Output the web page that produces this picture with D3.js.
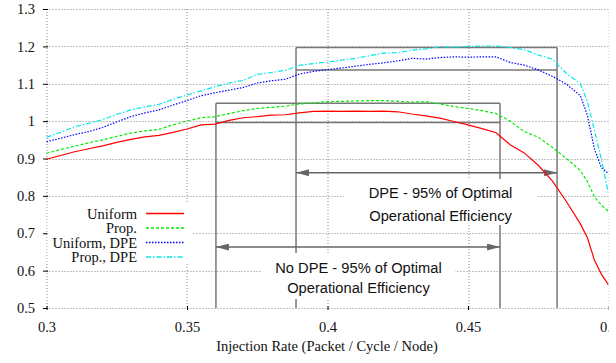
<!DOCTYPE html>
<html>
<head>
<meta charset="utf-8">
<script src="https://cdn.jsdelivr.net/npm/d3@7"></script>
<style>
  body { margin: 0; background: #fff; }
  svg text { font-family: "Liberation Serif", "Times New Roman", serif; }
  .note { font-family: "Liberation Sans", Arial, Helvetica, sans-serif; }
</style>
</head>
<body>
<div id="chart"></div>
<script>
// injection rate samples (packet / cycle / node)
const injectionRate = [0.300, 0.305, 0.310, 0.315, 0.320, 0.325, 0.330, 0.335, 0.340, 0.345,
  0.350, 0.355, 0.360, 0.365, 0.370, 0.375, 0.380, 0.385, 0.390, 0.395,
  0.400, 0.405, 0.410, 0.415, 0.420, 0.425, 0.430, 0.435, 0.440, 0.445,
  0.450, 0.455, 0.460, 0.465, 0.470, 0.475, 0.480, 0.485, 0.490, 0.4925,
  0.495, 0.4975, 0.500];

const uniform = [0.898, 0.908, 0.918, 0.926, 0.934, 0.943, 0.951, 0.958, 0.962, 0.970,
  0.979, 0.990, 0.992, 1.002, 1.009, 1.012, 1.016, 1.017, 1.022, 1.026,
  1.027, 1.026, 1.027, 1.026, 1.027, 1.025, 1.019, 1.014, 1.008, 0.999,
  0.990, 0.980, 0.969, 0.937, 0.915, 0.882, 0.840, 0.785, 0.725, 0.688,
  0.628, 0.590, 0.562];

const prop = [0.914, 0.924, 0.933, 0.942, 0.950, 0.959, 0.968, 0.974, 0.978, 0.990,
  1.000, 1.009, 1.012, 1.020, 1.028, 1.034, 1.037, 1.040, 1.046, 1.049,
  1.052, 1.053, 1.054, 1.055, 1.055, 1.053, 1.051, 1.052, 1.046, 1.039,
  1.034, 1.028, 1.020, 1.000, 0.972, 0.957, 0.930, 0.900, 0.868, 0.838,
  0.797, 0.775, 0.758];

const uniformDpe = [0.945, 0.954, 0.964, 0.972, 0.983, 0.998, 1.012, 1.022, 1.030, 1.043,
  1.055, 1.068, 1.076, 1.083, 1.090, 1.102, 1.108, 1.112, 1.126, 1.133,
  1.138, 1.142, 1.147, 1.152, 1.156, 1.161, 1.168, 1.166, 1.170, 1.172,
  1.171, 1.172, 1.172, 1.157, 1.150, 1.137, 1.120, 1.099, 1.068, 1.015,
  0.925, 0.875, 0.860];

const propDpe = [0.957, 0.970, 0.985, 0.994, 1.004, 1.018, 1.030, 1.038, 1.045, 1.058,
  1.070, 1.081, 1.092, 1.102, 1.109, 1.125, 1.130, 1.136, 1.149, 1.154,
  1.158, 1.163, 1.168, 1.175, 1.182, 1.183, 1.190, 1.193, 1.199, 1.198,
  1.200, 1.201, 1.201, 1.197, 1.191, 1.177, 1.166, 1.128, 1.100, 1.052,
  0.975, 0.897, 0.805];

const seriesNames = ["Uniform", "Prop.", "Uniform, DPE", "Prop., DPE"];
const seriesColors = ["#ff0000", "#00ee00", "#0000ff", "#00e8e8"];
const seriesDashes = ["none", "3,2", "1.5,1.5", "5,2,1.5,2"];

const xTicks = [0.3, 0.35, 0.4, 0.45, 0.5];
const yTicks = [0.5, 0.6, 0.7, 0.8, 0.9, 1, 1.1, 1.2, 1.3];

// 95%-of-optimal bands and spans
const dpeSpan = [0.3888, 0.4817];
const dpeBand = [1.137, 1.197];
const noDpeSpan = [0.3603, 0.4614];
const noDpeBand = [0.996, 1.048];
const dpeArrowLevel = 0.862;
const noDpeArrowLevel = 0.663;
const dpeNote = ["DPE - 95% of Optimal", "Operational Efficiency"];
const noDpeNote = ["No DPE - 95% of Optimal", "Operational Efficiency"];

const margin = { top: 9, left: 46.5 };
const width = 562, height = 299;
const fontSize = 14.5;

const svg = d3.select("#chart").append("svg")
  .attr("width", 616)
  .attr("height", 363);

const g = svg.append("g")
  .attr("transform", `translate(${margin.left},${margin.top})`);

const x = d3.scaleLinear().domain([0.3, 0.5]).range([0, width]);
const y = d3.scaleLinear().domain([0.5, 1.3]).range([height, 0]);

// grid
g.append("g")
  .selectAll("line")
  .data(yTicks)
  .join("line")
  .attr("x1", 0).attr("x2", width)
  .attr("y1", d => Math.round(y(d)) + 0.5).attr("y2", d => Math.round(y(d)) + 0.5)
  .attr("stroke", "#888").attr("stroke-width", 1).attr("stroke-dasharray", "1,2");

g.append("g")
  .selectAll("line")
  .data(xTicks)
  .join("line")
  .attr("x1", d => Math.round(x(d)) + 0.5).attr("x2", d => Math.round(x(d)) + 0.5)
  .attr("y1", 0).attr("y2", height)
  .attr("stroke", "#888").attr("stroke-width", 1).attr("stroke-dasharray", "1,2");

// axes
const yAxis = g.append("g")
  .call(d3.axisLeft(y).tickValues(yTicks).tickSize(5).tickPadding(6.5).tickFormat(d => String(d)));
yAxis.select(".domain").remove();
yAxis.selectAll("line").attr("transform", "translate(1.5,0)").attr("stroke", "#000");
yAxis.selectAll("text").attr("font-size", fontSize).attr("fill", "#111")
  .attr("font-family", "Liberation Serif, serif");

const xAxis = g.append("g")
  .attr("transform", `translate(0,${height})`)
  .call(d3.axisBottom(x).tickValues(xTicks).tickSize(4).tickPadding(10).tickFormat(d => String(d)));
xAxis.select(".domain").remove();
xAxis.selectAll("line").attr("transform", "translate(0,-2)").attr("stroke", "#000");
xAxis.selectAll("text").attr("font-size", fontSize).attr("fill", "#111")
  .attr("font-family", "Liberation Serif, serif");

g.append("text")
  .attr("x", x(0.4) - 0.5)
  .attr("y", height + 43)
  .attr("text-anchor", "middle")
  .attr("font-size", fontSize)
  .attr("fill", "#111")
  .text("Injection Rate (Packet / Cycle / Node)");

// band boxes with vertical lines down to the axis
function drawBand(span, band) {
  const bx = g.append("g").attr("stroke", "#777").attr("stroke-width", 1.5).attr("fill", "none");
  bx.append("line").attr("x1", x(span[0])).attr("x2", x(span[1]))
    .attr("y1", y(band[1])).attr("y2", y(band[1]));
  bx.append("line").attr("x1", x(span[0])).attr("x2", x(span[1]))
    .attr("y1", y(band[0])).attr("y2", y(band[0]));
  span.forEach(s => {
    bx.append("line").attr("x1", x(s)).attr("x2", x(s))
      .attr("y1", y(band[1])).attr("y2", height);
  });
}
drawBand(dpeSpan, dpeBand);
drawBand(noDpeSpan, noDpeBand);

// white boxes behind the notes
function drawNote(lines, cx, top, boxW, baselines) {
  const ng = g.append("g");
  ng.append("rect")
    .attr("x", cx - boxW / 2).attr("y", top)
    .attr("width", boxW).attr("height", 46)
    .attr("fill", "#fff");
  lines.forEach((t, i) => {
    ng.append("text")
      .attr("class", "note")
      .attr("x", cx)
      .attr("y", baselines[i])
      .attr("text-anchor", "middle")
      .attr("font-size", 14.7)
      .attr("fill", "#111")
      .text(t);
  });
}
drawNote(dpeNote, (x(dpeSpan[0]) + x(dpeSpan[1])) / 2 + 14, 170, 193, [189.3, 211.7]);
drawNote(noDpeNote, (x(noDpeSpan[0]) + x(noDpeSpan[1])) / 2 + 0.5, 244, 194, [264.3, 284.3]);

// arrows
const defs = svg.append("defs");
defs.append("marker")
  .attr("id", "head")
  .attr("viewBox", "0 0 13 7")
  .attr("refX", 13).attr("refY", 3.5)
  .attr("markerWidth", 13).attr("markerHeight", 7)
  .attr("markerUnits", "userSpaceOnUse")
  .attr("orient", "auto-start-reverse")
  .append("path").attr("d", "M0,0 L13,3.5 L0,7 Z").attr("fill", "#666");

function drawArrow(span, level) {
  g.append("line")
    .attr("x1", x(span[0])).attr("x2", x(span[1]))
    .attr("y1", y(level)).attr("y2", y(level))
    .attr("stroke", "#666").attr("stroke-width", 1.5)
    .attr("marker-start", "url(#head)")
    .attr("marker-end", "url(#head)");
}
drawArrow(dpeSpan, dpeArrowLevel);
drawArrow(noDpeSpan, noDpeArrowLevel);

// curves
const allSeries = [uniform, prop, uniformDpe, propDpe];
const line = d3.line()
  .x((d, i) => x(injectionRate[i]))
  .y(d => y(d));

// legend background
const legend = g.append("g");
legend.append("rect")
  .attr("x", 1).attr("y", 194).attr("width", 145).attr("height", 61)
  .attr("fill", "#fff");

g.selectAll("path.series")
  .data(allSeries)
  .join("path")
  .attr("class", "series")
  .attr("d", line)
  .attr("fill", "none")
  .attr("stroke", (d, i) => seriesColors[i])
  .attr("stroke-width", 1.2)
  .attr("stroke-dasharray", (d, i) => seriesDashes[i]);

seriesNames.forEach((name, i) => {
  const ly = 204.5 + i * 14.5;
  legend.append("text")
    .attr("x", 90.5).attr("y", ly).attr("dy", "0.35em")
    .attr("text-anchor", "end")
    .attr("font-size", fontSize)
    .attr("fill", "#111")
    .text(name);
  legend.append("line")
    .attr("x1", 99.5).attr("x2", 137.5)
    .attr("y1", ly).attr("y2", ly)
    .attr("stroke", seriesColors[i])
    .attr("stroke-width", 1.4)
    .attr("stroke-dasharray", seriesDashes[i]);
});

// the source picture is cut off just right of the plot
svg.append("rect")
  .attr("x", 608.5).attr("y", 0).attr("width", 8).attr("height", 363)
  .attr("fill", "#fff");
</script>
</body>
</html>
